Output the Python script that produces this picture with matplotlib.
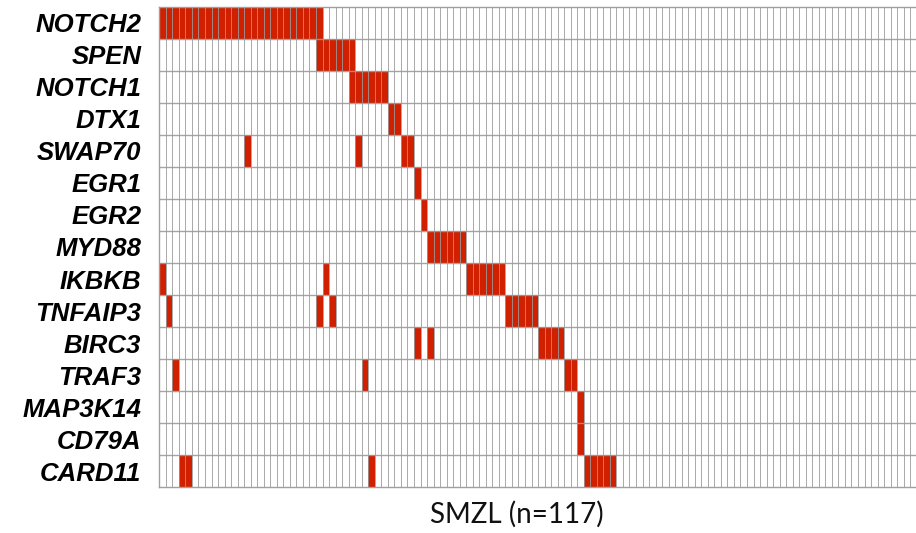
import numpy as np
import matplotlib
matplotlib.use("Agg")
import matplotlib.pyplot as plt
from matplotlib.colors import ListedColormap

n_samples = 117
genes = ["NOTCH2", "SPEN", "NOTCH1", "DTX1", "SWAP70", "EGR1", "EGR2", "MYD88",
         "IKBKB", "TNFAIP3", "BIRC3", "TRAF3", "MAP3K14", "CD79A", "CARD11"]

# mutated sample (column) indices per gene
NOTCH2 = list(range(0, 25))
SPEN = [24, 25, 26, 27, 28, 29]
NOTCH1 = [29, 30, 31, 32, 33, 34]
DTX1 = [35, 36]
SWAP70 = [13, 30, 37, 38]
EGR1 = [39]
EGR2 = [40]
MYD88 = [41, 42, 43, 44, 45, 46]
IKBKB = [0, 25, 47, 48, 49, 50, 51, 52]
TNFAIP3 = [1, 24, 26, 53, 54, 55, 56, 57]
BIRC3 = [39, 41, 58, 59, 60, 61]
TRAF3 = [2, 31, 62, 63]
MAP3K14 = [64]
CD79A = [64]
CARD11 = [3, 4, 32, 65, 66, 67, 68, 69]

mutations = [NOTCH2, SPEN, NOTCH1, DTX1, SWAP70, EGR1, EGR2, MYD88,
             IKBKB, TNFAIP3, BIRC3, TRAF3, MAP3K14, CD79A, CARD11]

mat = np.zeros((len(genes), n_samples))
for i, cols in enumerate(mutations):
    mat[i, cols] = 1

W, H = 916, 533
fig = plt.figure(figsize=(W / 100, H / 100), dpi=100)
left_px, top_px, bottom_px = 159.3, 6.7, 487.3
col_w = 6.53
ax = fig.add_axes([left_px / W, 1 - bottom_px / H,
                   n_samples * col_w / W, (bottom_px - top_px) / H])

cmap = ListedColormap(["white", "#D02000"])
ax.pcolormesh(np.arange(n_samples + 1), np.arange(len(genes) + 1), mat,
              cmap=cmap, vmin=0, vmax=1, edgecolors="none", linewidth=0)
ax.vlines(np.arange(1, n_samples), 0, len(genes), color="#9a9a9a",
          linewidth=0.7, alpha=0.85)
ax.hlines(np.arange(1, len(genes)), 0, n_samples, color="#9a9a9a",
          linewidth=1.0, alpha=0.9)
ax.set_xlim(0, n_samples)
ax.set_ylim(len(genes), 0)
for s in ax.spines.values():
    s.set_color("#a0a0a0")
    s.set_linewidth(1.0)

ax.set_xticks([])
ax.set_yticks(np.arange(len(genes)) + 0.5)
ax.set_yticklabels(genes, fontsize=18.5, fontweight="bold", fontstyle="italic",
                   family=["Liberation Sans", "DejaVu Sans"])
ax.tick_params(axis="y", length=0, pad=13)

fig.text(517 / W, 1 - 523 / H, "SMZL (n=117)", ha="center", va="baseline",
         fontsize=20, family=["Lato", "DejaVu Sans"], color="#111111")

fig.savefig("out.png", dpi=100)
